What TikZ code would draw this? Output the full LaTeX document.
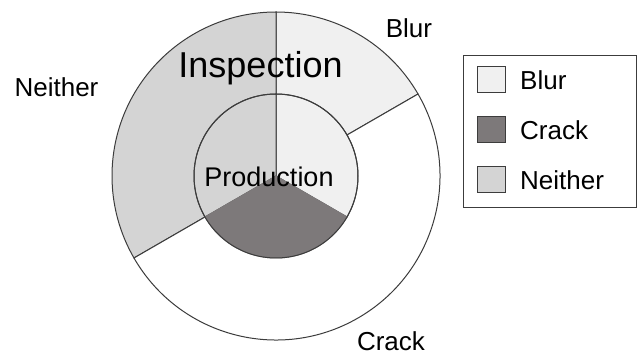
\documentclass[tikz,border=0pt]{standalone}
\usepackage{fontspec}
\setmainfont{Liberation Sans}
\definecolor{blurgray}{HTML}{F0F0F0}
\definecolor{crackgray}{HTML}{7D797A}
\definecolor{neithergray}{HTML}{D4D4D4}
\definecolor{edgegray}{HTML}{3C3C3C}
\tikzset{
  wedge/.style={draw=edgegray, line width=1pt},
  lbl/.style={anchor=base, inner sep=0pt, font=\fontsize{26}{30}\selectfont},
  swatch/.style={draw=edgegray, line width=1pt, minimum width=28pt, minimum height=26pt, inner sep=0pt},
}

\begin{document}
\begin{tikzpicture}[x=1pt, y=1pt]
\useasboundingbox (0,0) rectangle (638,356);
\path (276,180) coordinate (mid);

% outer ring: inspection
\filldraw[wedge, fill=blurgray]    (mid) -- ++(30:164)  arc (30:90:164)   -- cycle;
\filldraw[wedge, fill=neithergray] (mid) -- ++(90:164)  arc (90:210:164)  -- cycle;
\filldraw[wedge, fill=white]       (mid) -- ++(210:164) arc (210:390:164) -- cycle;

% inner pie: production
\filldraw[wedge, fill=blurgray]    (mid) -- ++(-30:82) arc (-30:90:82)  -- cycle;
\filldraw[wedge, fill=neithergray] (mid) -- ++(90:82)  arc (90:210:82)  -- cycle;
\filldraw[wedge, fill=crackgray, draw=crackgray] (mid) -- ++(210:82) arc (210:330:82) -- cycle;
\draw[wedge] (mid) circle (82);

%%%%%%%%%%%%%%%%%%%%%%%%%%%%%%%%%%%%%%%%

\node[lbl, font=\fontsize{36}{40}\selectfont] (inspection) at (260.5,278) {Inspection};
\node[lbl, font=\fontsize{27}{30}\selectfont] (production) at (269,169) {Production};
\node[lbl] (outblur)    at (409,318)  {Blur};
\node[lbl] (outneither) at (56.5,259) {Neither};
\node[lbl] (outcrack)   at (391,5)    {Crack};

%%%%%%%%%%%%%%%%%%%%%%%%%%%%%%%%%%%%%%%%

\draw[edgegray, line width=0.8pt] (463,149) rectangle (636,301);
\node[swatch, fill=blurgray]    (keyblur)    at (491,276) {};
\node[swatch, fill=crackgray]   (keycrack)   at (491,226) {};
\node[swatch, fill=neithergray] (keyneither) at (491,176) {};
\node[lbl, anchor=base west] (txtblur)    at (520,266) {Blur};
\node[lbl, anchor=base west] (txtcrack)   at (520,216) {Crack};
\node[lbl, anchor=base west] (txtneither) at (520,166) {Neither};

\end{tikzpicture}
\end{document}
